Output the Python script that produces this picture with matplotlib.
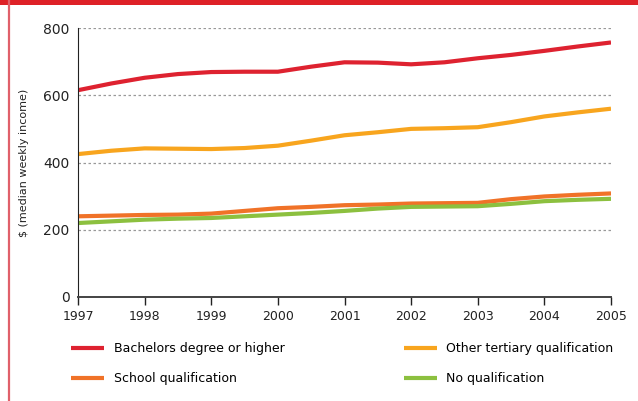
import matplotlib
matplotlib.use("Agg")
import matplotlib.pyplot as plt
from matplotlib.lines import Line2D
from matplotlib.patches import Rectangle

# data (half-year steps)
years = [1997, 1997.5, 1998, 1998.5, 1999, 1999.5, 2000, 2000.5, 2001, 2001.5,
         2002, 2002.5, 2003, 2003.5, 2004, 2004.5, 2005]
bachelors = [615, 635, 652, 663, 669, 670, 670, 685, 698, 697,
             692, 698, 710, 720, 732, 745, 757]
other_tertiary = [425, 435, 442, 441, 440, 443, 450, 465, 481, 490,
                  500, 502, 505, 520, 537, 549, 560]
school = [240, 242, 244, 245, 248, 256, 264, 268, 273, 275,
          278, 279, 280, 291, 299, 304, 308]
no_qual = [220, 225, 230, 233, 235, 240, 245, 250, 256, 263,
           268, 269, 270, 277, 285, 289, 292]

series = [
    ("Bachelors degree or higher", bachelors, "#de2230"),
    ("School qualification", school, "#f07228"),
    ("Other tertiary qualification", other_tertiary, "#f8a51e"),
    ("No qualification", no_qual, "#8cc03f"),
]
xticks = list(range(1997, 2006))
yticks = [0, 200, 400, 600, 800]

plt.rcParams['font.family'] = ['DejaVu Sans']
fig = plt.figure(figsize=(6.38, 4.01), dpi=100)
ax = fig.add_axes([78 / 638, 1 - 297 / 401, (611 - 78) / 638, (297 - 28) / 401])

for label, vals, color in series:
    ax.plot(years, vals, color=color, lw=3.0, label=label, solid_capstyle="butt")

ax.set_xlim(1997, 2005)
ax.set_ylim(0, 800)
ax.set_xticks(xticks)
ax.set_yticks(yticks)
ax.tick_params(axis="x", length=6, width=1, direction="out", labelsize=9, colors="#222222", pad=3)
ax.tick_params(axis="y", length=0, labelsize=10, colors="#222222", pad=6)
ax.grid(axis="y", linestyle=(0, (2, 2)), color="#999999", lw=0.9)
ax.set_axisbelow(True)
for s in ["top", "right"]:
    ax.spines[s].set_visible(False)
ax.spines["left"].set_color("#222222")
ax.spines["bottom"].set_color("#444444")
ax.spines["bottom"].set_linewidth(1.4)
ax.set_ylabel("$ (median weekly income)", fontsize=8, color="#222222", labelpad=10)

handles, labels = ax.get_legend_handles_labels()
leg_kw = dict(loc="upper left", frameon=False, fontsize=9, handlelength=2.6,
              labelspacing=1.35, handletextpad=0.8, borderaxespad=0, borderpad=0)
fig.legend(handles[:2], labels[:2], bbox_to_anchor=(71 / 638, 1 - 342 / 401), **leg_kw)
fig.legend(handles[2:], labels[2:], bbox_to_anchor=(404 / 638, 1 - 342 / 401), **leg_kw)

# page decorations: red bar on top and thin red rule on the left
fig.add_artist(Rectangle((0, 1 - 5 / 401), 1, 5 / 401, transform=fig.transFigure,
                         color="#de2127", lw=0))
fig.add_artist(Line2D([9 / 638, 9 / 638], [0, 1], transform=fig.transFigure,
                      color="#e0606a", lw=1.6))

fig.savefig("out.png", dpi=100)
